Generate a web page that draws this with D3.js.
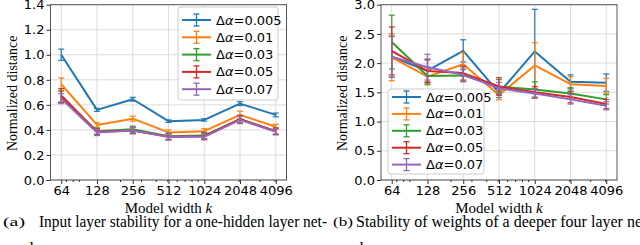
<!DOCTYPE html>
<html><head><meta charset="utf-8">
<script src="https://cdn.jsdelivr.net/npm/d3@7"></script>
<style>body{margin:0;background:#fff}svg{display:block}</style>
</head><body>
<svg id="c" width="640" height="245"></svg>
<script>
const widths = [64,128,256,512,1024,2048,4096];
const seriesNames = ["0.005","0.01","0.03","0.05","0.07"];
const colors = ["#1f77b4","#ff7f0e","#2ca02c","#d62728","#9467bd"];

// Panel (a) values and error bars
const aVals = [
  [1.00,0.56,0.645,0.47,0.48,0.61,0.52],
  [0.765,0.44,0.49,0.38,0.39,0.52,0.425],
  [0.665,0.39,0.405,0.35,0.355,0.485,0.39],
  [0.675,0.385,0.395,0.345,0.35,0.485,0.39],
  [0.65,0.38,0.395,0.345,0.345,0.48,0.385]
];
const aErr = [
  [0.045,0.012,0.015,0.01,0.01,0.015,0.015],
  [0.05,0.018,0.02,0.02,0.02,0.03,0.02],
  [0.045,0.025,0.025,0.025,0.025,0.03,0.025],
  [0.055,0.025,0.025,0.025,0.025,0.03,0.025],
  [0.04,0.025,0.025,0.025,0.025,0.03,0.025]
];
// Panel (b) values and error bars
const bVals = [
  [2.11,1.87,2.21,1.49,2.20,1.68,1.665],
  [2.10,1.77,1.98,1.455,1.96,1.64,1.61],
  [2.36,1.78,1.79,1.60,1.55,1.48,1.38],
  [2.21,1.865,1.83,1.60,1.50,1.42,1.30],
  [2.11,1.93,1.80,1.57,1.48,1.38,1.27]
];
const bErr = [
  [0.35,0.2,0.19,0.08,0.72,0.12,0.15],
  [0.40,0.12,0.2,0.08,0.39,0.13,0.13],
  [0.46,0.15,0.1,0.12,0.13,0.1,0.08],
  [0.41,0.19,0.12,0.15,0.1,0.1,0.08],
  [0.35,0.22,0.12,0.1,0.08,0.08,0.07]
];
const aYTicks = [0.0,0.2,0.4,0.6,0.8,1.0,1.2,1.4];
const bYTicks = [0.0,0.5,1.0,1.5,2.0,2.5,3.0];
const minorX = [70,80,90,200,300,400,500,600,700,800,900,2000,3000,4000];

const svg = d3.select("#c");
const FONT = "'DejaVu Sans', sans-serif";
const SERIF = "'Liberation Serif', serif";

function panel(cfg){
  const g = svg.append("g");
  const x = d3.scaleLog().base(2).domain([Math.pow(2,5.7),Math.pow(2,12.3)]).range([cfg.x0,cfg.x1]);
  const y = d3.scaleLinear().domain([0,cfg.ymax]).range([cfg.y1,cfg.y0]);
  // grid
  g.selectAll(".gx").data(widths).enter().append("line")
    .attr("x1",d=>x(d)).attr("x2",d=>x(d)).attr("y1",cfg.y0).attr("y2",cfg.y1)
    .attr("stroke","#dcdcdc").attr("stroke-width",1);
  g.selectAll(".gy").data(cfg.yticks).enter().append("line")
    .attr("x1",cfg.x0).attr("x2",cfg.x1).attr("y1",d=>y(d)).attr("y2",d=>y(d))
    .attr("stroke","#dcdcdc").attr("stroke-width",1);
  // series
  cfg.vals.forEach((vals,si)=>{
    const c = colors[si];
    const line = d3.line().x((d,i)=>x(widths[i])).y(d=>y(d));
    g.append("path").datum(vals).attr("d",line).attr("fill","none")
      .attr("stroke",c).attr("stroke-width",2).attr("stroke-linejoin","round");
    vals.forEach((v,i)=>{
      const e = cfg.err[si][i], cx = x(widths[i]);
      g.append("line").attr("x1",cx).attr("x2",cx).attr("y1",y(v-e)).attr("y2",y(v+e))
        .attr("stroke",c).attr("stroke-width",1.3).attr("opacity",0.9);
      [v-e,v+e].forEach(t=>g.append("line").attr("x1",cx-3).attr("x2",cx+3)
        .attr("y1",y(t)).attr("y2",y(t)).attr("stroke",c).attr("stroke-width",1.3).attr("opacity",0.9));
    });
  });
  // frame
  g.append("rect").attr("x",cfg.x0).attr("y",cfg.y0).attr("width",cfg.x1-cfg.x0).attr("height",cfg.y1-cfg.y0)
    .attr("fill","none").attr("stroke","#555").attr("stroke-width",1);
  // axes
  const xa = d3.axisBottom(x).tickValues(widths).tickFormat(d3.format("d")).tickSizeOuter(0).tickSize(4).tickPadding(2);
  const xg = g.append("g").attr("transform",`translate(0,${cfg.y1})`).call(xa);
  xg.select(".domain").remove();
  xg.selectAll("text").attr("font-family",FONT).attr("font-size",13).attr("fill","#000");
  xg.selectAll("line").attr("stroke","#333");
  const xm = d3.axisBottom(x).tickValues(minorX).tickFormat("").tickSize(2).tickSizeOuter(0);
  const xmg = g.append("g").attr("transform",`translate(0,${cfg.y1})`).call(xm);
  xmg.select(".domain").remove(); xmg.selectAll("line").attr("stroke","#333");
  const ya = d3.axisLeft(y).tickValues(cfg.yticks).tickFormat(d3.format(".1f")).tickSize(4).tickPadding(2).tickSizeOuter(0);
  const yg = g.append("g").attr("transform",`translate(${cfg.x0},0)`).call(ya);
  yg.select(".domain").remove();
  yg.selectAll("text").attr("font-family",FONT).attr("font-size",13).attr("fill","#000");
  yg.selectAll("line").attr("stroke","#333");
  // labels
  const xl = g.append("text").attr("x",(cfg.x0+cfg.x1)/2).attr("y",212.5).attr("text-anchor","middle")
    .attr("font-family",SERIF).attr("font-size",15);
  xl.append("tspan").text("Model width ");
  xl.append("tspan").attr("font-style","italic").text("k");
  g.append("text").attr("transform",`translate(${cfg.ylx},${(cfg.y0+cfg.y1)/2+1}) rotate(-90)`)
    .attr("text-anchor","middle").attr("font-family",SERIF).attr("font-size",14).text("Normalized distance");
  // legend
  const L = cfg.leg;
  g.append("rect").attr("x",L.x).attr("y",L.y).attr("width",L.w).attr("height",L.h).attr("rx",3)
    .attr("fill","#fff").attr("fill-opacity",0.8).attr("stroke","#cccccc").attr("stroke-width",1);
  seriesNames.forEach((n,i)=>{
    const yy = L.y + L.top + i*L.dy, c = colors[i];
    const lx0 = L.x+4, lx1 = L.x+33, mx = (lx0+lx1)/2;
    g.append("line").attr("x1",lx0).attr("x2",lx1).attr("y1",yy).attr("y2",yy).attr("stroke",c).attr("stroke-width",2);
    g.append("line").attr("x1",mx).attr("x2",mx).attr("y1",yy-6).attr("y2",yy+6).attr("stroke",c).attr("stroke-width",1.3);
    [yy-6,yy+6].forEach(t=>g.append("line").attr("x1",mx-3).attr("x2",mx+3).attr("y1",t).attr("y2",t).attr("stroke",c).attr("stroke-width",1.3));
    const t = g.append("text").attr("x",L.x+38).attr("y",yy+4.5).attr("font-family",FONT).attr("font-size",13);
    t.append("tspan").text("Δ");
    t.append("tspan").attr("font-style","italic").text("α");
    t.append("tspan").text("="+n);
  });
}

panel({x0:50.5,x1:286.5,y0:4.7,y1:180,ymax:1.4,yticks:aYTicks,vals:aVals,err:aErr,ylx:17,
  leg:{x:178,y:7,w:100,h:93,top:13,dy:17.3}});
panel({x0:381,x1:617,y0:4.7,y1:180,ymax:3.0,yticks:bYTicks,vals:bVals,err:bErr,ylx:347,
  leg:{x:388,y:89,w:96,h:85,top:8,dy:16.9}});

// captions
function caption(tagX, tag, tagW, txtX, txt, txtW, rest){
  svg.append("text").attr("x",tagX).attr("y",226).attr("font-family",SERIF).attr("font-size",13)
    .attr("textLength",tagW).attr("lengthAdjust","spacingAndGlyphs").text(tag);
  const t = svg.append("text").attr("x",txtX).attr("y",226.5).attr("font-family",SERIF).attr("font-size",17);
  t.append("tspan").attr("textLength",txtW).attr("lengthAdjust","spacingAndGlyphs").text(txt);
  if (rest) t.append("tspan").text(rest);
  svg.append("text").attr("x",tagX).attr("y",254).attr("font-family",SERIF).attr("font-size",17).text("work.");
}
caption(3,"(a)",22,39,"Input layer stability for a one-hidden layer net-",288,null);
caption(333,"(b)",20,356,"Stability of weights of a deeper four layer ne",286,"tworks");
</script>
</body></html>
